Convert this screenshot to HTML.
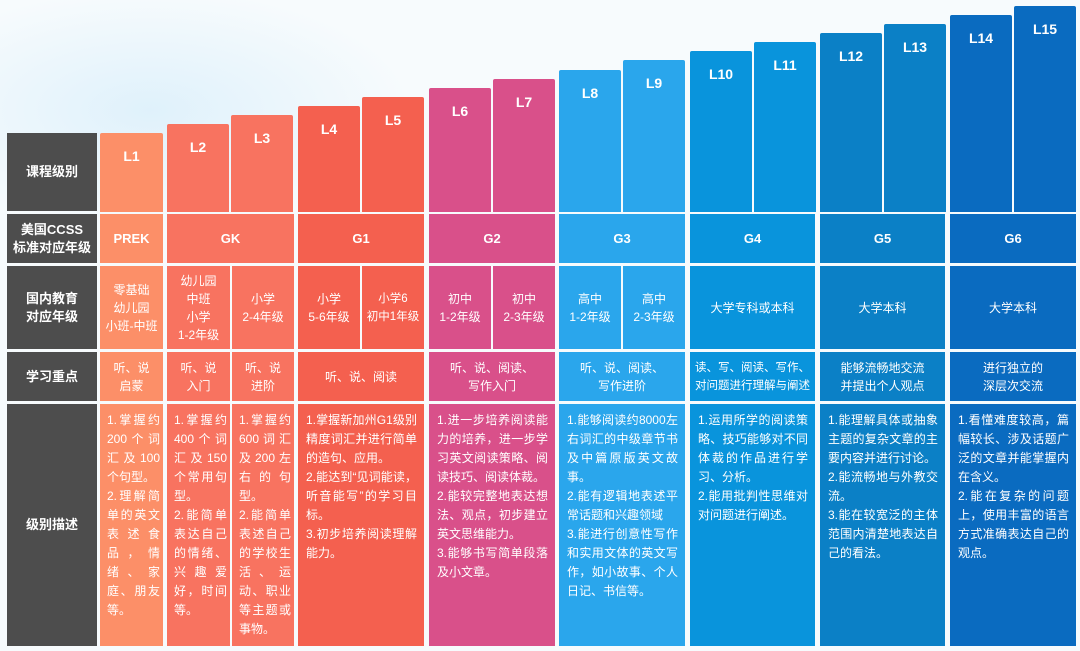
<!DOCTYPE html>
<html><head><meta charset="utf-8">
<style>
html,body{margin:0;padding:0}
body{width:1080px;height:651px;position:relative;overflow:hidden;
background:radial-gradient(ellipse 260px 120px at 150px 110px,#dff1fb 0%,rgba(255,255,255,0) 100%),#f7fbfd;
font-family:"Liberation Sans","Noto Sans CJK SC",sans-serif;color:#fff}
.c{position:absolute;box-sizing:border-box;display:flex;align-items:center;justify-content:center;text-align:center;font-size:12px;line-height:18px}
.h{background:#4d4d4d;font-weight:bold;font-size:13px;line-height:18px}
.d{display:block;text-align:justify;padding:7px 7px 0 8px;line-height:19px;font-size:12px}
.n{padding:7px 3px 0 7px;letter-spacing:0}
.g{font-weight:bold;font-size:13px}
.bar{position:absolute;border-radius:2px 2px 0 0;text-align:center;font-weight:bold;font-size:14px;color:#fff;box-sizing:border-box;padding-top:15px}
</style></head><body>
<div id="bars"></div>

<div class="c h" style="left:7px;top:133px;width:90px;height:78px">课程级别</div>
<div class="c h" style="left:7px;top:214px;width:90px;height:49px">美国CCSS<br>标准对应年级</div>
<div class="c h" style="left:7px;top:266px;width:90px;height:83px">国内教育<br>对应年级</div>
<div class="c h" style="left:7px;top:352px;width:90px;height:49px">学习重点</div>
<div class="c h" style="left:7px;top:404px;width:90px;height:242px">级别描述</div>

<div class="c g" style="left:100px;top:214px;width:63px;height:49px;background:#fc8f68">PREK</div>
<div class="c g" style="left:167px;top:214px;width:127px;height:49px;background:#f87360">GK</div>
<div class="c g" style="left:298px;top:214px;width:126px;height:49px;background:#f4604f">G1</div>
<div class="c g" style="left:429px;top:214px;width:126px;height:49px;background:#d9508a">G2</div>
<div class="c g" style="left:559px;top:214px;width:126px;height:49px;background:#2aa6ec">G3</div>
<div class="c g" style="left:690px;top:214px;width:125px;height:49px;background:#0994dc">G4</div>
<div class="c g" style="left:820px;top:214px;width:125px;height:49px;background:#0b80c6">G5</div>
<div class="c g" style="left:950px;top:214px;width:126px;height:49px;background:#0a6bc0">G6</div>

<div class="c" style="left:100px;top:266px;width:63px;height:83px;background:#fc8f68">零基础<br>幼儿园<br>小班-中班</div>
<div class="c" style="left:167px;top:266px;width:63px;height:83px;background:#f87360">幼儿园<br>中班<br>小学<br>1-2年级</div>
<div class="c" style="left:232px;top:266px;width:62px;height:83px;background:#f87360">小学<br>2-4年级</div>
<div class="c" style="left:298px;top:266px;width:62px;height:83px;background:#f4604f">小学<br>5-6年级</div>
<div class="c" style="left:362px;top:266px;width:62px;height:83px;background:#f4604f;font-size:11.5px">小学6<br>初中1年级</div>
<div class="c" style="left:429px;top:266px;width:62px;height:83px;background:#d9508a">初中<br>1-2年级</div>
<div class="c" style="left:493px;top:266px;width:62px;height:83px;background:#d9508a">初中<br>2-3年级</div>
<div class="c" style="left:559px;top:266px;width:62px;height:83px;background:#2aa6ec">高中<br>1-2年级</div>
<div class="c" style="left:623px;top:266px;width:62px;height:83px;background:#2aa6ec">高中<br>2-3年级</div>
<div class="c" style="left:690px;top:266px;width:125px;height:83px;background:#0994dc">大学专科或本科</div>
<div class="c" style="left:820px;top:266px;width:125px;height:83px;background:#0b80c6">大学本科</div>
<div class="c" style="left:950px;top:266px;width:126px;height:83px;background:#0a6bc0">大学本科</div>

<div class="c" style="left:100px;top:352px;width:63px;height:49px;background:#fc8f68">听、说<br>启蒙</div>
<div class="c" style="left:167px;top:352px;width:63px;height:49px;background:#f87360">听、说<br>入门</div>
<div class="c" style="left:232px;top:352px;width:62px;height:49px;background:#f87360">听、说<br>进阶</div>
<div class="c" style="left:298px;top:352px;width:126px;height:49px;background:#f4604f">听、说、阅读</div>
<div class="c" style="left:429px;top:352px;width:126px;height:49px;background:#d9508a">听、说、阅读、<br>写作入门</div>
<div class="c" style="left:559px;top:352px;width:126px;height:49px;background:#2aa6ec">听、说、阅读、<br>写作进阶</div>
<div class="c" style="left:690px;top:352px;width:125px;height:49px;background:#0994dc;font-size:11.5px">读、写、阅读、写作、<br>对问题进行理解与阐述</div>
<div class="c" style="left:820px;top:352px;width:125px;height:49px;background:#0b80c6">能够流畅地交流<br>并提出个人观点</div>
<div class="c" style="left:950px;top:352px;width:126px;height:49px;background:#0a6bc0">进行独立的<br>深层次交流</div>

<div class="c d n" style="left:100px;top:404px;width:63px;height:242px;background:#fc8f68">1.掌握约200个词汇及100个句型。<br>2.理解简单的英文表述食品，情绪、家庭、朋友等。</div>
<div class="c d n" style="left:167px;top:404px;width:63px;height:242px;background:#f87360">1.掌握约400个词汇及150个常用句型。<br>2.能简单表达自己的情绪、兴趣爱好，时间等。</div>
<div class="c d n" style="left:232px;top:404px;width:62px;height:242px;background:#f87360">1.掌握约600词汇及200左右的句型。<br>2.能简单表述自己的学校生活、运动、职业等主题或事物。</div>
<div class="c d" style="left:298px;top:404px;width:126px;height:242px;background:#f4604f">1.掌握新加州G1级别精度词汇并进行简单的造句、应用。<br>2.能达到“见词能读，听音能写”的学习目标。<br>3.初步培养阅读理解能力。</div>
<div class="c d" style="left:429px;top:404px;width:126px;height:242px;background:#d9508a">1.进一步培养阅读能力的培养，进一步学习英文阅读策略、阅读技巧、阅读体裁。<br>2.能较完整地表达想法、观点，初步建立英文思维能力。<br>3.能够书写简单段落及小文章。</div>
<div class="c d" style="left:559px;top:404px;width:126px;height:242px;background:#2aa6ec">1.能够阅读约8000左右词汇的中级章节书及中篇原版英文故事。<br>2.能有逻辑地表述平常话题和兴趣领域<br>3.能进行创意性写作和实用文体的英文写作，如小故事、个人日记、书信等。</div>
<div class="c d" style="left:690px;top:404px;width:125px;height:242px;background:#0994dc">1.运用所学的阅读策略、技巧能够对不同体裁的作品进行学习、分析。<br>2.能用批判性思维对对问题进行阐述。</div>
<div class="c d" style="left:820px;top:404px;width:125px;height:242px;background:#0b80c6">1.能理解具体或抽象主题的复杂文章的主要内容并进行讨论。<br>2.能流畅地与外教交流。<br>3.能在较宽泛的主体范围内清楚地表达自己的看法。</div>
<div class="c d" style="left:950px;top:404px;width:126px;height:242px;background:#0a6bc0">1.看懂难度较高，篇幅较长、涉及话题广泛的文章并能掌握内在含义。<br>2.能在复杂的问题上，使用丰富的语言方式准确表达自己的观点。</div>

<script>
const levels = ["L1","L2","L3","L4","L5","L6","L7","L8","L9","L10","L11","L12","L13","L14","L15"];
const levelRank = [1,2,3,4,5,6,7,8,9,10,11,12,13,14,15];
const groupOf = [0,1,1,2,2,3,3,4,4,5,5,6,6,7,7];
const groupColors = ["#fc8f68","#f87360","#f4604f","#d9508a","#2aa6ec","#0994dc","#0b80c6","#0a6bc0"];
const groupStart = [100,167,298,429,559,690,820,950];
const baseY = 212;
function yScale(r){ return 133 - (r-1)*9.07; }
function xLeft(i){
  const g = groupOf[i];
  if (g===0) return {x:100,w:63};
  const first = groupOf.indexOf(g)===i;
  return first ? {x:groupStart[g],w:62} : {x:groupStart[g]+64,w:62};
}
const host = document.getElementById('bars');
levels.forEach((lv,i)=>{
  const el = document.createElement('div');
  
  
  el.className = 'bar';
  const p = xLeft(i);
  const top = yScale(levelRank[i]);
  el.style.left = p.x + 'px';
  el.style.width = p.w + 'px';
  el.style.top = top + 'px';
  el.style.height = (baseY - top) + 'px';
  el.style.background = groupColors[groupOf[i]];
  el.textContent = lv;
  host.appendChild(el);
});
</script>
</body></html>
